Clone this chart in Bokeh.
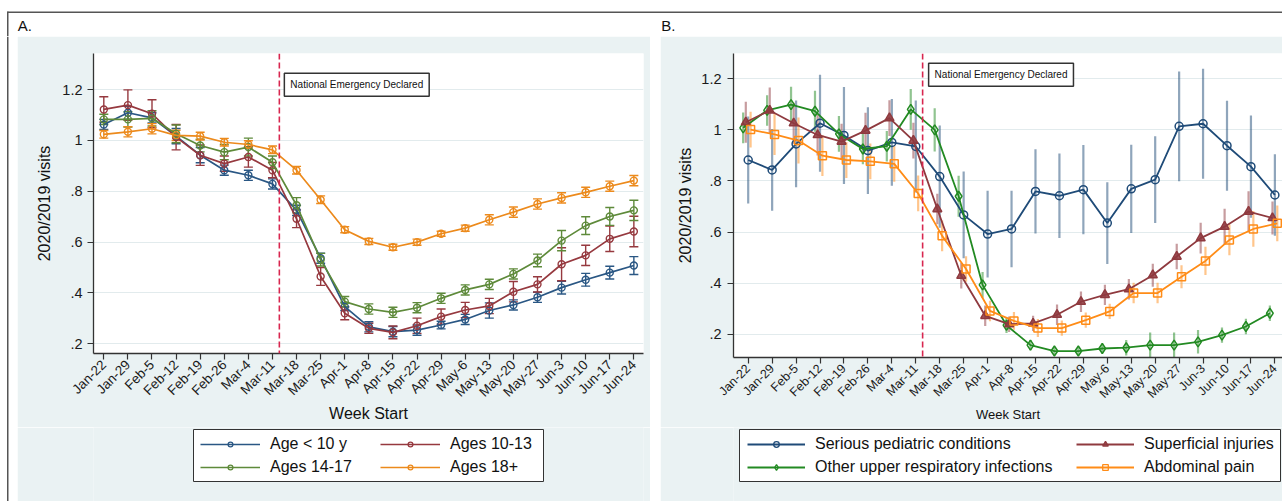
import math
from bokeh.plotting import figure
from bokeh.models import (ColumnDataSource, FixedTicker, CustomJSTickFormatter, Span, Label,
                          BoxAnnotation, Legend, LegendItem, Whisker, TeeHead, Range1d, Spacer)
from bokeh.transform import dodge
from bokeh.layouts import row, column
from bokeh.embed import file_html
from bokeh.resources import INLINE

weeks = ["Jan-22", "Jan-29", "Feb-5", "Feb-12", "Feb-19", "Feb-26", "Mar-4", "Mar-11",
         "Mar-18", "Mar-25", "Apr-1", "Apr-8", "Apr-15", "Apr-22", "Apr-29", "May-6",
         "May-13", "May-20", "May-27", "Jun-3", "Jun-10", "Jun-17", "Jun-24"]

# ---- Panel A: ratio of 2020/2019 visits by age group ----
age_lt10 = [1.063, 1.109, 1.089, 1.017, 0.942, 0.883, 0.863, 0.829, 0.725, 0.537, 0.346, 0.267,
            0.248, 0.254, 0.274, 0.296, 0.331, 0.353, 0.383, 0.421, 0.452, 0.480, 0.508]
age_10_13 = [1.122, 1.139, 1.105, 1.013, 0.942, 0.909, 0.935, 0.883, 0.692, 0.465, 0.320, 0.261,
             0.245, 0.271, 0.307, 0.333, 0.349, 0.405, 0.434, 0.513, 0.548, 0.613, 0.642]
age_14_17 = [1.083, 1.083, 1.087, 1.026, 0.980, 0.954, 0.974, 0.914, 0.745, 0.531, 0.366, 0.337,
             0.324, 0.342, 0.379, 0.412, 0.434, 0.475, 0.528, 0.606, 0.665, 0.701, 0.725]
age_18p = [1.024, 1.034, 1.046, 1.020, 1.017, 0.993, 0.984, 0.963, 0.883, 0.767, 0.649, 0.603,
           0.580, 0.600, 0.633, 0.655, 0.688, 0.718, 0.750, 0.774, 0.796, 0.820, 0.842]
# half widths of 95% CI
ci_lt10 = [0.02, 0.025, 0.02, 0.03, 0.03, 0.02, 0.02, 0.02, 0.02, 0.02, 0.015, 0.02,
           0.02, 0.02, 0.015, 0.02, 0.03, 0.02, 0.02, 0.025, 0.025, 0.025, 0.035]
ci_10_13 = [0.05, 0.06, 0.055, 0.05, 0.04, 0.03, 0.04, 0.03, 0.035, 0.035, 0.025, 0.02,
            0.025, 0.03, 0.03, 0.03, 0.03, 0.04, 0.03, 0.065, 0.04, 0.05, 0.06]
ci_14_17 = [0.02, 0.03, 0.03, 0.035, 0.025, 0.03, 0.035, 0.025, 0.03, 0.025, 0.02, 0.02,
            0.02, 0.02, 0.02, 0.02, 0.02, 0.02, 0.025, 0.04, 0.035, 0.035, 0.04]
ci_18p = [0.015, 0.02, 0.02, 0.02, 0.015, 0.015, 0.015, 0.015, 0.015, 0.015, 0.012, 0.012,
          0.012, 0.012, 0.01, 0.012, 0.02, 0.02, 0.02, 0.02, 0.02, 0.02, 0.02]
labels_a = ["Age < 10 y", "Ages 10-13", "Ages 14-17", "Ages 18+"]

# ---- Panel B: ratio of 2020/2019 visits by condition ----
serious = [0.882, 0.843, 0.945, 1.026, 0.978, 0.919, 0.951, 0.935, 0.817, 0.667, 0.592, 0.612,
           0.759, 0.742, 0.766, 0.635, 0.769, 0.805, 1.014, 1.024, 0.938, 0.856, 0.745]
uri = [1.008, 1.076, 1.099, 1.073, 0.984, 0.925, 0.936, 1.080, 1.000, 0.740, 0.393, 0.235,
       0.157, 0.134, 0.134, 0.144, 0.147, 0.157, 0.157, 0.170, 0.196, 0.230, 0.282]
superficial = [1.030, 1.076, 1.026, 0.980, 0.954, 0.997, 1.046, 0.958, 0.690, 0.429, 0.272, 0.239,
               0.242, 0.276, 0.327, 0.354, 0.376, 0.431, 0.504, 0.576, 0.621, 0.680, 0.655]
abdominal = [1.001, 0.982, 0.958, 0.899, 0.882, 0.877, 0.867, 0.751, 0.585, 0.455, 0.291, 0.252,
             0.224, 0.224, 0.255, 0.289, 0.361, 0.361, 0.425, 0.487, 0.569, 0.612, 0.634]
ci_serious = [0.17, 0.16, 0.17, 0.19, 0.19, 0.17, 0.17, 0.18, 0.2, 0.17, 0.17, 0.15,
              0.165, 0.165, 0.175, 0.16, 0.173, 0.17, 0.215, 0.215, 0.176, 0.2, 0.16]
ci_uri = [0.06, 0.06, 0.07, 0.08, 0.07, 0.06, 0.06, 0.08, 0.085, 0.08, 0.05, 0.03,
          0.02, 0.015, 0.015, 0.02, 0.03, 0.05, 0.05, 0.046, 0.03, 0.03, 0.03]
ci_sup = [0.08, 0.09, 0.08, 0.08, 0.07, 0.07, 0.07, 0.07, 0.06, 0.05, 0.04, 0.03,
          0.03, 0.04, 0.04, 0.04, 0.04, 0.045, 0.05, 0.06, 0.07, 0.08, 0.065]
ci_abd = [0.07, 0.08, 0.09, 0.08, 0.07, 0.07, 0.07, 0.07, 0.06, 0.05, 0.04, 0.035,
          0.035, 0.03, 0.03, 0.03, 0.04, 0.04, 0.045, 0.055, 0.06, 0.07, 0.07]
labels_b = ["Serious pediatric conditions", "Other upper respiratory infections",
            "Superficial injuries", "Abdominal pain"]

EVENT = 7 + 2 / 7          # national emergency declared (Mar-13)
EVENT_TEXT = "National Emergency Declared"

FONT = "Liberation Sans"
BG = "#eaf2f3"
AX = "#333333"
FRAME_LINE = "#555555"
NAN = float("nan")


def blank_fig(width, height, fill, mbl=0, mbr=0):
    """figure whose frame spans the canvas (apart from mbl/mbr), ranges in pixels, y downwards"""
    fw = width - mbl - mbr
    p = figure(width=width, height=height, x_range=Range1d(0, fw), y_range=Range1d(height, 0),
               output_backend="svg", toolbar_location=None, tools="", title=None,
               x_axis_type=None, y_axis_type=None, min_border=0)
    p.min_border_left = mbl
    p.min_border_right = mbr
    p.min_border_top = 0
    p.min_border_bottom = 0
    p.background_fill_color = fill
    p.border_fill_color = fill
    p.outline_line_color = None
    return p


def box(p, l, r, t, b, color, line=None):
    p.add_layout(BoxAnnotation(left=l, right=r, top=t, bottom=b, fill_color=color,
                               fill_alpha=1.0, line_color=line, line_width=1,
                               line_alpha=1.0 if line else 0))


def plot_fig(width, mbl, mbr, mbb, xr, yr):
    p = figure(width=width, height=391, x_range=Range1d(*xr), y_range=Range1d(*yr),
               output_backend="svg", toolbar_location=None, tools="", title=None,
               min_border_left=mbl, min_border_right=mbr, min_border_top=17,
               min_border_bottom=mbb)
    p.background_fill_color = "white"
    p.border_fill_color = BG
    p.outline_line_color = None
    return p


def style_axes(p, xt_size, yt_size, xl_size, yl_size, xl_standoff, yl_standoff, yt_standoff):
    xt = FixedTicker(ticks=list(range(len(weeks))))
    yt = FixedTicker(ticks=[0.2, 0.4, 0.6, 0.8, 1.0, 1.2])
    xa = p.xaxis[0]
    xa.ticker = xt
    xa.major_label_overrides = {i: w for i, w in enumerate(weeks)}
    xa.major_label_orientation = math.pi / 4
    xa.axis_label = "Week Start"
    xa.major_label_text_font_size = xt_size
    xa.axis_label_text_font_size = xl_size
    xa.axis_label_standoff = xl_standoff
    xa.major_label_standoff = 3
    xa.major_tick_out = 6
    ya = p.yaxis[0]
    ya.ticker = yt
    ya.formatter = CustomJSTickFormatter(
        code="return tick.toFixed(1).replace(/^0/, '').replace(/\\.0$/, '');")
    ya.axis_label = "2020/2019 visits"
    ya.major_label_text_font_size = yt_size
    ya.axis_label_text_font_size = yl_size
    ya.axis_label_standoff = yl_standoff
    ya.major_label_standoff = yt_standoff
    ya.major_tick_out = 6
    ya.major_label_orientation = "horizontal"
    for ax in (xa, ya):
        ax.major_tick_in = 0
        ax.minor_tick_line_color = None
        ax.axis_line_color = AX
        ax.axis_line_width = 1.3
        ax.major_tick_line_color = AX
        ax.major_tick_line_width = 1.2
        ax.major_label_text_font = FONT
        ax.major_label_text_color = "#1a1a1a"
        ax.axis_label_text_font = FONT
        ax.axis_label_text_font_style = "normal"
        ax.axis_label_text_color = "#111111"
    p.xgrid.visible = False
    p.ygrid.ticker = yt
    p.ygrid.grid_line_color = "#e2ebed"
    p.ygrid.grid_line_width = 1.2


def add_legend(p, items, vx, vy, glyph_w, glyph_h):
    lg = Legend(items=items, location=(vx, vy), orientation="vertical",
                border_line_color=None, background_fill_alpha=0, padding=0, margin=0,
                spacing=3, glyph_width=glyph_w, glyph_height=glyph_h, label_height=20,
                label_standoff=10, label_text_font=FONT, label_text_font_size="16px",
                label_text_color="#111111")
    p.add_layout(lg)


def event_marks(p, frame_bottom, box_top, x_off):
    p.add_layout(Span(location=EVENT, dimension="height", line_color="#d8264f",
                      line_width=1.6, line_dash="6 3"))
    p.add_layout(Label(x=EVENT, y=frame_bottom - box_top, x_units="data", y_units="screen",
                       x_offset=x_off, text=EVENT_TEXT, text_font=FONT, text_font_size="10px",
                       text_color="#111111", text_baseline="top", text_align="left",
                       border_line_color="#333333", border_line_width=1.5,
                       background_fill_color="white", padding=6))


# ====================== header strip (page y 0..36) ======================
head = blank_fig(1282, 36, "white")
box(head, 7, 1282, 11, 12.5, FRAME_LINE)
box(head, 6.5, 8, 11, 36, FRAME_LINE)
head.add_layout(Label(x=17.3, y=16.8, text="A.", text_font=FONT, text_font_size="15px",
                      text_color="#111111", text_baseline="top", text_align="left"))
head.add_layout(Label(x=660.7, y=16.6, text="B.", text_font=FONT, text_font_size="15px",
                      text_color="#111111", text_baseline="top", text_align="left"))

lstrip = blank_fig(17, 465, "white")
box(lstrip, 6.5, 8, 0, 465, FRAME_LINE)

# ====================== Panel A ======================
pa = plot_fig(633, 76, 7, 74, (-0.428, 22.40), (0.162, 1.342))
style_axes(pa, "13.5px", "14.5px", "16px", "16px", -3, 6, 5)
event_marks(pa, 353, 72.7, 5)

colors_a = ["#2a5784", "#96393f", "#5e8a3a", "#ec8a1c"]
series_a = [(age_lt10, ci_lt10), (age_10_13, ci_10_13), (age_14_17, ci_14_17), (age_18p, ci_18p)]
for (vals, ci), c in zip(series_a, colors_a):
    src = ColumnDataSource(dict(x=list(range(len(weeks))), y=vals,
                                lo=[v - h for v, h in zip(vals, ci)],
                                hi=[v + h for v, h in zip(vals, ci)]))
    pa.add_layout(Whisker(source=src, base="x", upper="hi", lower="lo", line_color=c,
                          line_width=1.4,
                          upper_head=TeeHead(size=9, line_color=c, line_width=1.4),
                          lower_head=TeeHead(size=9, line_color=c, line_width=1.4)))
    pa.line("x", "y", source=src, line_color=c, line_width=1.7)
    pa.scatter("x", "y", source=src, marker="circle", size=7, line_color=c,
               line_width=1.4, fill_alpha=0)

# legend strip A (page x 17..650, y 427..501); frame aligned with panel A frame (93..643)
FLA = 93
la = blank_fig(633, 74, BG, mbl=76, mbr=7)
box(la, 193 - FLA, 543 - FLA, 2, 54, "white", line="#333333")
leg_a = []
for c in colors_a:
    ln = la.line(x=[NAN], y=[NAN], line_color=c, line_width=1.7)
    sc = la.scatter(x=[NAN], y=[NAN], marker="circle", size=6, line_color=c, line_width=1.3,
                    fill_alpha=0)
    leg_a.append([ln, sc])
add_legend(la, [LegendItem(label=labels_a[0], renderers=leg_a[0]),
                LegendItem(label=labels_a[2], renderers=leg_a[2])], 200 - FLA, 501 - 477, 60, 12)
add_legend(la, [LegendItem(label=labels_a[1], renderers=leg_a[1]),
                LegendItem(label=labels_a[3], renderers=leg_a[3])], 380 - FLA, 501 - 477, 60, 12)

# ====================== Panel B ======================
pb = plot_fig(622, 73, 0, 70, (-0.614, 22.318), (0.1087, 1.299))
style_axes(pb, "12.5px", "14.5px", "13px", "16px", -2, 4, 6)
event_marks(pb, 357, 62.7, 6)

colors_b = ["#1f4b78", "#228a22", "#8f3a3f", "#ff8c17"]
markers_b = ["circle", "diamond", "triangle", "square"]
msize_b = [8, 10, 9, 8]
mfill_b = [0, 0, 0.85, 0]
offsets_b = [0.0, -0.21, -0.1, 0.1]
series_b = [(serious, ci_serious), (uri, ci_uri), (superficial, ci_sup), (abdominal, ci_abd)]
srcs_b = []
for (vals, ci) in series_b:
    srcs_b.append(ColumnDataSource(dict(x=list(range(len(weeks))), y=vals,
                                        lo=[v - h for v, h in zip(vals, ci)],
                                        hi=[v + h for v, h in zip(vals, ci)])))
for src, c, off in zip(srcs_b, colors_b, offsets_b):
    pb.segment(x0=dodge("x", off), y0="lo", x1=dodge("x", off), y1="hi", source=src,
               line_color=c, line_alpha=0.5, line_width=2.2)
for src, c, off, m, ms, mf in zip(srcs_b, colors_b, offsets_b, markers_b, msize_b, mfill_b):
    pb.line(x=dodge("x", off), y="y", source=src, line_color=c, line_width=1.8)
    pb.scatter(x=dodge("x", off), y="y", source=src, marker=m, size=ms, line_color=c,
               line_width=1.5, fill_color=c, fill_alpha=mf)

# legend strip B (page x 660..1282, y 427..501); frame aligned with panel B frame (733..1282)
FLB = 733
lb = blank_fig(622, 74, BG, mbl=73, mbr=0)
box(lb, 739 - FLB, 1280 - FLB, 2, 54, "white", line="#333333")
leg_b = []
for c, m, mf in zip(colors_b, markers_b, mfill_b):
    ln = lb.line(x=[NAN], y=[NAN], line_color=c, line_width=1.8)
    sc = lb.scatter(x=[NAN], y=[NAN], marker=m, size=7, line_color=c, line_width=1.3,
                    fill_color=c, fill_alpha=mf)
    leg_b.append([ln, sc])
add_legend(lb, [LegendItem(label=labels_b[0], renderers=leg_b[0]),
                LegendItem(label=labels_b[1], renderers=leg_b[1])], 747 - FLB, 501 - 477, 58, 14)
add_legend(lb, [LegendItem(label=labels_b[2], renderers=leg_b[2]),
                LegendItem(label=labels_b[3], renderers=leg_b[3])], 1076 - FLB, 501 - 477, 58, 14)

layout = column(head,
                row(lstrip, column(pa, la), Spacer(width=10, height=465), column(pb, lb)))
open("out.html", "w").write(file_html(layout, INLINE))
